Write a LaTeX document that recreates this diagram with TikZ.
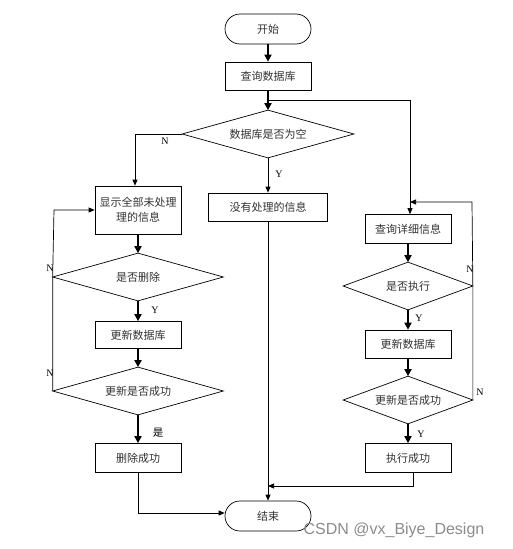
\documentclass[tikz,border=0pt]{standalone}
\usepackage{fontspec}
\setmainfont{Liberation Serif}
\newfontfamily\cjk{Noto Sans CJK SC}
\newfontfamily\wmfont{Liberation Sans}
\usetikzlibrary{shapes.geometric,arrows.meta}
\begin{document}
\begin{tikzpicture}[x=1pt,y=-1pt,
  every node/.style={font=\cjk\fontsize{11}{15}\selectfont, text=black!80},
  term/.style={draw, rounded corners=15pt, minimum width=86pt, minimum height=30pt, inner sep=0pt},
  stepbox/.style={draw, minimum width=86pt, minimum height=28pt, inner sep=1pt},
  dec/.style={rectangle, minimum width=#1, minimum height=47pt, inner sep=0pt,
    append after command={\pgfextra{\draw[line width=0.7pt] (\tikzlastnode.north) -- (\tikzlastnode.east) -- (\tikzlastnode.south) -- (\tikzlastnode.west) -- cycle;}}},
  thickar/.style={line width=1.8pt, -{Triangle[length=7pt,width=7pt]}},
  thinar/.style={line width=0.7pt, -{Triangle[length=6pt,width=5pt]}},
  thinln/.style={line width=0.7pt},
  lab/.style={font=\fontsize{10}{12}\selectfont, text=black}
]
\useasboundingbox (0,0) rectangle (512,549);
\fill[white] (0,0) rectangle (512,549);
\tikzset{every path/.append style={line width=0.7pt}}

\node[term] (start) at (268,29) {开始};
\node[stepbox] (q) at (268,76) {查询数据库};
\node[dec=171pt] (d1) at (268,134) {数据库是否为空};
\node[stepbox, minimum height=48pt, align=center] (show) at (138,210) {显示全部未处理\\理的信息};
\node[stepbox, minimum width=119pt] (none) at (268,207) {没有处理的信息};
\node[dec=170pt] (d2) at (138,277) {是否删除};
\node[stepbox, minimum height=27pt] (up1) at (138,335) {更新数据库};
\node[dec=170pt] (d3) at (138,391) {更新是否成功};
\node[stepbox, minimum height=29pt] (del) at (138,458) {删除成功};
\node[term] (end) at (268,516) {结束};

\node[stepbox, minimum height=29pt] (detail) at (408,229) {查询详细信息};
\node[dec=129pt] (d4) at (408,286) {是否执行};
\node[stepbox] (up2) at (408,344) {更新数据库};
\node[dec=129pt] (d5) at (408,400) {更新是否成功};
\node[stepbox, minimum height=29pt] (exec) at (408,458) {执行成功};

\coordinate (br) at (268,100);
\coordinate (brr) at (410,100);
\coordinate (ln) at (135,134);
\coordinate (lloop) at (54,210);
\coordinate (rloop) at (472,202);
\coordinate (rloopin) at (410,202);
\coordinate (dend) at (138,513);
\coordinate (eend) at (413,486);
\coordinate (mend) at (268,486);

% main flow
\draw[thickar] (start) -- (q);
\draw[thickar] (q) -- (d1);
\draw[thinln] (br) -- (brr);
\draw[thinar] (brr) -- (brr |- detail.north);
\draw[thinar] (d1.west) -- (ln) -- (ln |- show.north);
\draw[thinar] (d1.south) -- (none.north);
\draw[thinar] (none.south) -- (end.north);

% left column
\draw[thickar] (show) -- (d2);
\draw[thickar] (d2) -- (up1);
\draw[thickar] (up1) -- (d3);
\draw[thickar] (d3) -- (del);
\draw[thinar] (d3.west) -- (d2.west) -- (lloop) -- (show.west |- lloop);
\draw[thinar] (del.south) -- (dend) -- (end.west |- dend);

% right column
\draw[thickar] (detail) -- (d4);
\draw[thickar] (d4) -- (up2);
\draw[thickar] (up2) -- (d5);
\draw[thickar] (d5) -- (exec);
\draw[thinar] (d5.east) -- (d4.east) -- (rloop) -- (rloopin);
\draw[thinar] (exec.south -| eend) -- (eend) -- (mend);

% labels
\node[lab] at (165,141) {N};
\node[lab] at (279,174) {Y};
\node[lab] at (50,268) {N};
\node[lab] at (50,373) {N};
\node[lab] at (155,310) {Y};
\node[lab, font=\cjk\fontsize{10.5}{12}\selectfont] at (158,433) {是};
\node[lab] at (470,269) {N};
\node[lab] at (480,392) {N};
\node[lab] at (419,318) {Y};
\node[lab] at (421,434) {Y};

\node[font=\wmfont\fontsize{16}{18}\selectfont, text=black!45] at (394,530) {CSDN @vx\_Biye\_Design};
\end{tikzpicture}
\end{document}
